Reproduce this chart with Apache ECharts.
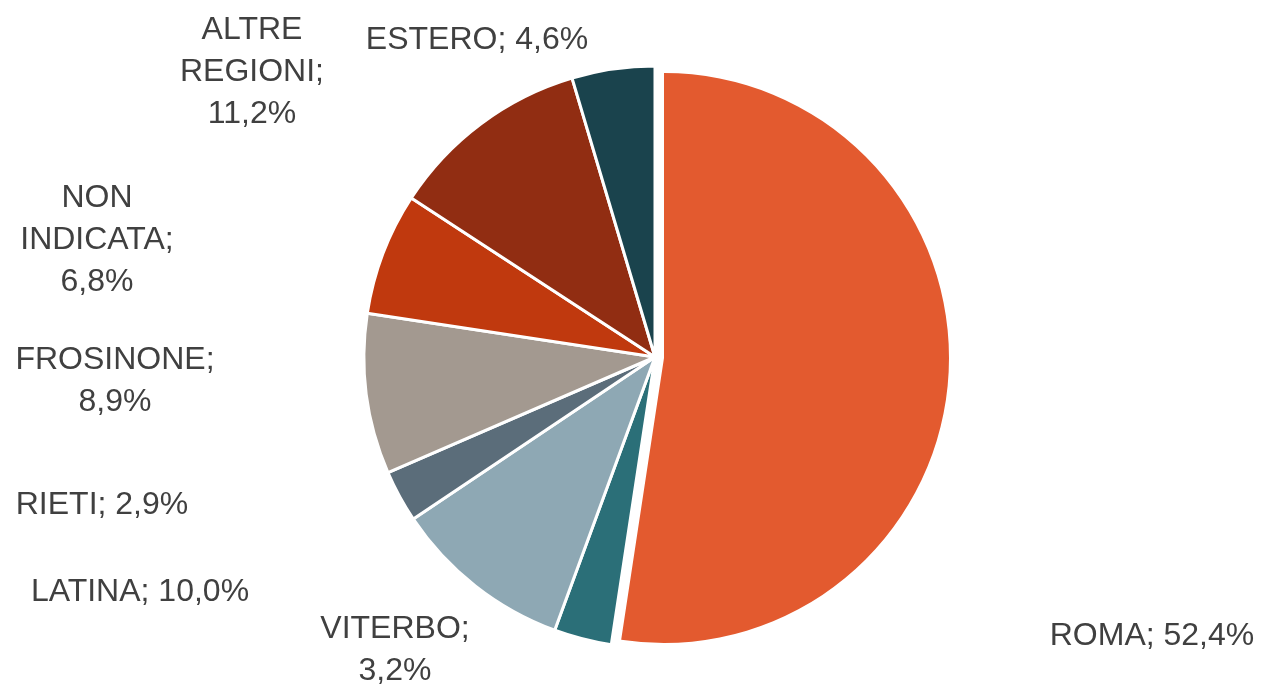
<!DOCTYPE html>
<html>
<head>
<meta charset="utf-8">
<script src="https://cdn.jsdelivr.net/npm/echarts@6/dist/echarts.min.js"></script>
<style>
  html, body { margin: 0; padding: 0; background: #fff; }
  #chart { width: 1266px; height: 690px; }
</style>
</head>
<body>
<div id="chart"></div>
<script>
// provincia di provenienza
const names = ['ROMA', 'VITERBO', 'LATINA', 'RIETI', 'FROSINONE', 'NON\nINDICATA', 'ALTRE\nREGIONI', 'ESTERO']
const values = [52.4, 3.2, 10.0, 2.9, 8.9, 6.8, 11.2, 4.6]
const colors = ['#E35A2F', '#2B6F78', '#8EA8B4', '#5B6D7A', '#A39990', '#C0390E', '#912D12', '#1A434D']

// where each label sits (centre of text block) and how name/value are joined
const labelPos = [
  { x: 1152, y: 636, sep: ' ' },
  { x: 395, y: 650, sep: '\n' },
  { x: 140, y: 592, sep: ' ' },
  { x: 102, y: 505, sep: ' ' },
  { x: 115, y: 381, sep: '\n' },
  { x: 97, y: 240, sep: '\n' },
  { x: 252, y: 72, sep: '\n' },
  { x: 477, y: 40, sep: ' ' }
]

const EXPLODED = 0 // ROMA is pulled out of the pie

const chart = echarts.init(document.getElementById('chart'))

function fmtPct(v) {
  return v.toFixed(1).replace('.', ',') + '%'
}

// main pie: every slice except the exploded one, plus all labels
const mainData = names.map((name, i) => ({
  name: name,
  value: values[i],
  itemStyle: i === EXPLODED
    ? { color: 'rgba(0,0,0,0)', borderWidth: 0 }
    : { color: colors[i] },
  label: {
    formatter: () => name + ';' + labelPos[i].sep + fmtPct(values[i])
  }
}))

// second pie: only the exploded slice, drawn with a shifted centre
const explodedData = names.map((name, i) => ({
  name: name,
  value: values[i],
  itemStyle: i === EXPLODED
    ? { color: colors[i] }
    : { color: 'rgba(0,0,0,0)', borderWidth: 0 }
}))

chart.setOption({
  animation: false,
  series: [
    {
      type: 'pie',
      center: [655, 357],
      radius: 291,
      startAngle: 90,
      clockwise: true,
      avoidLabelOverlap: false,
      itemStyle: { borderColor: '#ffffff', borderWidth: 3 },
      label: {
        show: true,
        position: 'outside',
        color: '#404040',
        fontFamily: 'Liberation Sans, Arial, sans-serif',
        fontSize: 32,
        lineHeight: 42,
        align: 'center'
      },
      labelLine: { show: false },
      labelLayout: (params) => {
        const p = labelPos[params.dataIndex]
        return { x: p.x, y: p.y, align: 'center', verticalAlign: 'middle' }
      },
      emphasis: { disabled: true },
      data: mainData
    },
    {
      type: 'pie',
      center: [664, 358],
      radius: 285,
      startAngle: 90,
      clockwise: true,
      silent: true,
      itemStyle: { borderColor: '#ffffff', borderWidth: 0 },
      label: { show: false },
      labelLine: { show: false },
      emphasis: { disabled: true },
      data: explodedData
    }
  ]
})
</script>
</body>
</html>
